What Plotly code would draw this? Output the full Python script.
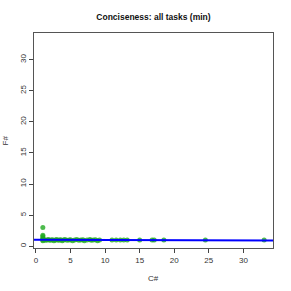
import plotly.graph_objects as go

# Data
cs_x = [1, 1, 1, 1, 1, 1, 1, 1.2, 1.4, 1.6, 1.8, 2.0, 2.2, 2.4, 2.6, 2.8, 3.0, 3.2, 3.4, 3.6, 3.8,
        4.0, 4.2, 4.5, 4.8, 5.0, 5.3, 5.6, 5.9, 6.2, 6.5, 6.8, 7.0, 7.4, 7.8, 8.0, 8.3, 8.6, 8.9, 9.2,
        11.0, 11.6, 12.2, 12.7, 13.2, 15.0, 16.8, 17.1, 18.5, 24.5, 33.0]
fs_y = [3.0, 1.75, 1.55, 1.3, 1.15, 1.0, 0.9, 1.05, 0.95, 1.0, 1.1, 0.95, 1.0, 1.05, 0.9, 1.0, 1.1, 0.95, 1.0, 1.05, 0.9,
        1.0, 1.1, 0.95, 1.0, 1.05, 0.9, 1.0, 1.1, 0.95, 1.0, 1.05, 0.9, 1.0, 1.1, 0.95, 1.0, 1.05, 0.9, 1.0,
        1.0, 1.0, 1.0, 1.0, 1.0, 1.0, 1.0, 1.0, 1.0, 1.0, 1.0]
fit_intercept = 1.04
fit_slope = -0.0035
axis_range = [-0.28, 34.28]
tick_vals = [0, 5, 10, 15, 20, 25, 30]

FONT = "Liberation Sans, Arial, sans-serif"

fig = go.Figure()
fig.add_trace(go.Scatter(
    x=cs_x, y=fs_y, mode="markers",
    marker=dict(color="rgba(34,170,34,0.8)", size=5, line=dict(width=0)),
    showlegend=False, hoverinfo="skip"))

line_x = axis_range
line_y = [fit_intercept + fit_slope * v for v in line_x]
fig.add_trace(go.Scatter(
    x=line_x, y=line_y, mode="lines",
    line=dict(color="#0000ff", width=2),
    showlegend=False, hoverinfo="skip"))

axis_common = dict(
    range=axis_range, tickvals=tick_vals, ticks="outside", ticklen=4,
    tickcolor="#444", tickwidth=1, showline=True, linecolor="#555", linewidth=1,
    mirror=True, showgrid=False, zeroline=False,
    tickfont=dict(family=FONT, size=8, color="#333"))

fig.update_layout(
    width=291, height=291,
    margin=dict(l=34, r=18, t=33, b=43),
    paper_bgcolor="white", plot_bgcolor="white",
    title=dict(text="<b>Conciseness: all tasks (min)</b>",
               font=dict(family=FONT, size=8.5, color="#111"),
               x=(34 + 273) / 2 / 291, xanchor="center",
               y=1 - 17 / 291, yanchor="middle", yref="container"),
    xaxis=dict(**axis_common),
    yaxis=dict(**axis_common, tickangle=-90),
    annotations=[
        dict(text="C#", x=0.5, xref="paper", y=-30 / 215, yref="paper",
             showarrow=False, font=dict(family=FONT, size=8, color="#333"),
             xanchor="center", yanchor="middle"),
        dict(text="F#", x=-29 / 239, xref="paper", y=0.5, yref="paper",
             showarrow=False, textangle=-90,
             font=dict(family=FONT, size=8, color="#333"),
             xanchor="center", yanchor="middle"),
    ],
)

fig.write_html("out.html", config={"displayModeBar": False},
               post_script="document.body.style.margin='0';document.body.style.padding='0';")
